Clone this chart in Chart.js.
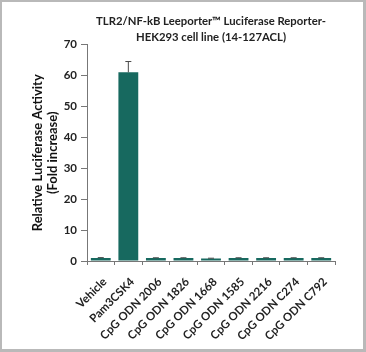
<!DOCTYPE html>
<html>
<head>
<meta charset="utf-8">
<script src="https://cdn.jsdelivr.net/npm/chart.js@4"></script>
<style>
  html, body { margin: 0; padding: 0; background: #fff; }
  #wrap { position: relative; width: 366px; height: 352px; }
  #frame {
    position: absolute; left: 0; top: 0; width: 366px; height: 352px;
    box-sizing: border-box; border-style: solid; border-color: #b9b9b9;
    border-width: 2px 3px 3px 2px; pointer-events: none;
  }
</style>
</head>
<body>
<div id="wrap">
  <canvas id="myChart" width="366" height="352"></canvas>
  <div id="frame"></div>
</div>
<script>
// values
const categories = ['Vehicle', 'Pam3CSK4', 'CpG ODN 2006', 'CpG ODN 1826', 'CpG ODN 1668',
                    'CpG ODN 1585', 'CpG ODN 2216', 'CpG ODN C274', 'CpG ODN C792'];
const foldIncrease = [1.0, 61.0, 1.0, 1.0, 0.8, 1.0, 1.0, 1.0, 1.0];
const foldError = [0.1, 3.5, 0.05, 0.05, 0.1, 0.05, 0.05, 0.05, 0.05];
const yTicks = [0, 10, 20, 30, 40, 50, 60, 70];

const FONT = 'Lato, "DejaVu Sans", sans-serif';

// draws the error bars on top of each bar
const errorBars = {
    id: 'errorBars',
    afterDatasetsDraw(chart) {
        const ctx = chart.ctx;
        const y = chart.scales.y;
        const meta = chart.getDatasetMeta(0);
        ctx.save();
        ctx.strokeStyle = '#4a4a4a';
        ctx.lineWidth = 1;
        meta.data.forEach(function (bar, i) {
            const top = y.getPixelForValue(foldIncrease[i] + foldError[i]);
            const base = y.getPixelForValue(foldIncrease[i]);
            ctx.beginPath();
            ctx.moveTo(bar.x, base);
            ctx.lineTo(bar.x, top);
            ctx.moveTo(bar.x - 3, top);
            ctx.lineTo(bar.x + 3, top);
            ctx.stroke();
        });
        ctx.restore();
    }
};

function initializeChart() {
    const ctx = document.getElementById('myChart').getContext('2d');
    new Chart(ctx, {
        type: 'bar',
        data: {
            labels: categories,
            datasets: [{
                data: foldIncrease,
                backgroundColor: '#17695f',
                borderWidth: 0,
                categoryPercentage: 1,
                barPercentage: 0.72
            }]
        },
        options: {
            responsive: false,
            animation: false,
            layout: { padding: { top: 14, right: 31, bottom: 0, left: 0 } },
            plugins: {
                legend: { display: false },
                tooltip: { enabled: false },
                title: {
                    display: true,
                    fullSize: false,
                    text: ['TLR2/NF-kB Leeporter\u2122 Luciferase Reporter-', 'HEK293 cell line (14-127ACL)'],
                    color: '#222',
                    font: { family: FONT, size: 11.3, weight: 'bold', lineHeight: 1.35 },
                    padding: { top: 0, bottom: 0 }
                }
            },
            scales: {
                x: {
                    afterFit: function (scale) { scale.height = 91; },
                    grid: { offset: true, drawOnChartArea: false, tickLength: 4, color: '#777' },
                    border: { color: '#777', width: 1 },
                    ticks: {
                        autoSkip: false,
                        maxRotation: 45,
                        minRotation: 45,
                        padding: 10,
                        labelOffset: 4,
                        color: '#222',
                        font: { family: FONT, size: 11.5, weight: 'bold' }
                    }
                },
                y: {
                    min: 0,
                    max: 70,
                    afterFit: function (scale) { scale.width = 87; },
                    afterBuildTicks: function (scale) {
                        scale.ticks = yTicks.map(v => ({ value: v }));
                    },
                    grid: { drawOnChartArea: false, tickLength: 6, color: '#777' },
                    border: { color: '#777', width: 1 },
                    ticks: {
                        padding: 4,
                        color: '#222',
                        font: { family: FONT, size: 11.5, weight: 'bold' }
                    },
                    title: {
                        display: true,
                        text: ['Relative Luciferase Activity', '(Fold increase)'],
                        color: '#111',
                        font: { family: FONT, size: 13, weight: 'bold', lineHeight: 1.15 },
                        padding: { top: 30, bottom: 0 }
                    }
                }
            }
        },
        plugins: [errorBars]
    });
}

document.addEventListener('DOMContentLoaded', function () {
    initializeChart();
});
</script>
</body>
</html>
